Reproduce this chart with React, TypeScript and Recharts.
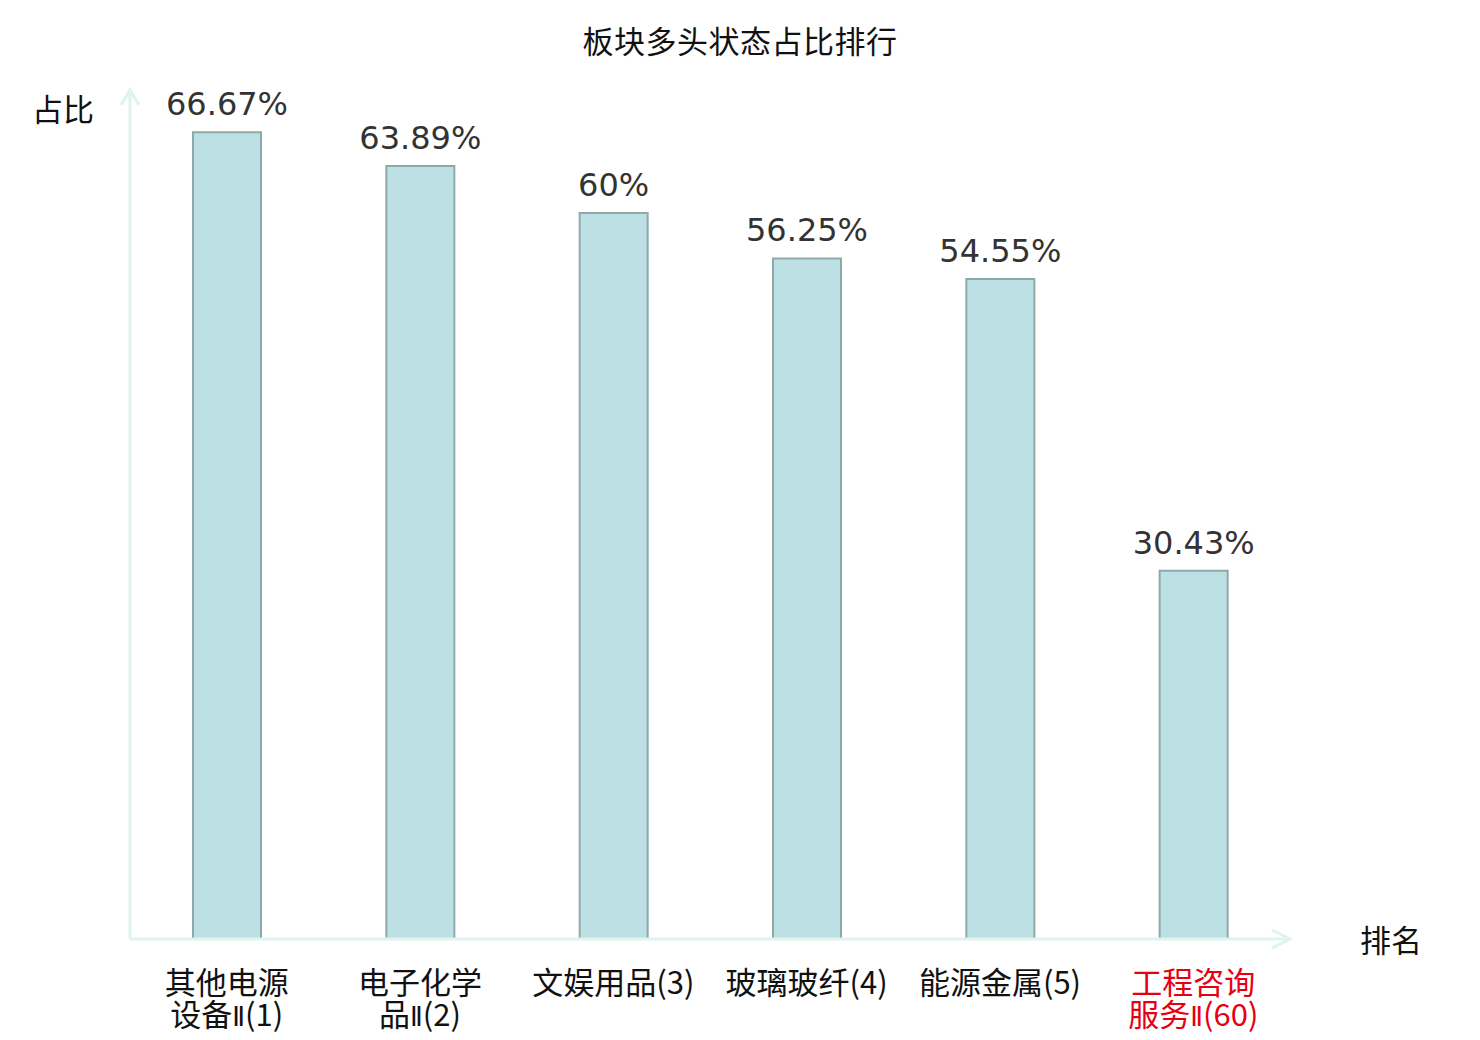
import React from 'react';
import { BarChart, Bar, XAxis, YAxis, LabelList } from 'recharts';

const sectors = ['其他电源设备Ⅱ', '电子化学品Ⅱ', '文娱用品', '玻璃玻纤', '能源金属', '工程咨询服务Ⅱ'];
const ranks = [1, 2, 3, 4, 5, 60];
const ratios = [66.67, 63.89, 60, 56.25, 54.55, 30.43];
const highlightRank = 60;

const data = sectors.map((name, i) => ({ name, rank: ranks[i], ratio: ratios[i] }));

const W = 1480;
const H = 1040;
const PLOT_LEFT = 130;
const PLOT_RIGHT = 1290;
const PLOT_TOP = 92;
const PLOT_BOTTOM = 939;
const X_AXIS_H = 80;
const AXIS_COLOR = '#dff3ef';

const CJK = '"Noto Sans CJK SC", "DejaVu Sans", sans-serif';
const LATIN = '"DejaVu Sans", sans-serif';

// split the roman numeral off so it can use a narrower glyph
const renderLine = (line: string) =>
  line.split(/(Ⅱ)/).filter(Boolean).map((part, i) =>
    part === 'Ⅱ' ? (
      <tspan key={i} fontFamily={LATIN} fontSize={26}>
        {part}
      </tspan>
    ) : (
      <tspan key={i}>{part}</tspan>
    )
  );

const SectorTick = (props: any) => {
  const { x, y, index } = props;
  const d = data[index];
  const red = d.rank === highlightRank;
  const tail = `(${d.rank})`;
  const lines = d.name.length > 4 ? [d.name.slice(0, 4), d.name.slice(4) + tail] : [d.name + tail];
  return (
    <g>
      {lines.map((l, i) => (
        <text
          key={i}
          x={x}
          y={y + 55 + i * 32}
          textAnchor="middle"
          fontSize={31}
          fontFamily={CJK}
          fill={red ? '#e60012' : '#111'}
        >
          {renderLine(l)}
        </text>
      ))}
    </g>
  );
};

const ValueLabel = (props: any) => {
  const { x, y, width, value } = props;
  return (
    <text x={x + width / 2} y={y - 17} textAnchor="middle" fontSize={32} fontFamily={LATIN} fill="#333">
      {`${value}%`}
    </text>
  );
};

export default function App() {
  return (
    <div style={{ position: 'absolute', left: 0, top: 0, width: W, height: H, background: '#fff' }}>
      <BarChart
        width={W}
        height={H}
        data={data}
        margin={{ top: PLOT_TOP, right: W - PLOT_RIGHT, bottom: H - PLOT_BOTTOM - X_AXIS_H, left: PLOT_LEFT }}
      >
        <XAxis
          dataKey="name"
          height={X_AXIS_H}
          interval={0}
          tickLine={false}
          tickSize={0}
          tickMargin={0}
          axisLine={{ stroke: AXIS_COLOR, strokeWidth: 3 }}
          tick={<SectorTick />}
        />
        <YAxis hide domain={[0, 70]} />
        <Bar dataKey="ratio" barSize={68} fill="#bce0e3" stroke="#8fa9aa" strokeWidth={2} isAnimationActive={false}>
          <LabelList dataKey="ratio" content={<ValueLabel />} />
        </Bar>
      </BarChart>
      <svg width={W} height={H} style={{ position: 'absolute', left: 0, top: 0, pointerEvents: 'none' }}>
        <line x1={PLOT_LEFT} y1={PLOT_BOTTOM} x2={PLOT_LEFT} y2={PLOT_TOP - 2} stroke={AXIS_COLOR} strokeWidth={3} />
        <polyline
          points={`${PLOT_LEFT - 9},${PLOT_TOP + 13} ${PLOT_LEFT},${PLOT_TOP - 2} ${PLOT_LEFT + 9},${PLOT_TOP + 13}`}
          fill="none"
          stroke={AXIS_COLOR}
          strokeWidth={3}
        />
        <polyline
          points={`${PLOT_RIGHT - 18},${PLOT_BOTTOM - 9} ${PLOT_RIGHT},${PLOT_BOTTOM} ${PLOT_RIGHT - 18},${PLOT_BOTTOM + 9}`}
          fill="none"
          stroke={AXIS_COLOR}
          strokeWidth={3}
        />
        <text x={740} y={53} textAnchor="middle" fontSize={31} letterSpacing={0.5} fontFamily={CJK} fill="#111">
          板块多头状态占比排行
        </text>
        <text x={63} y={121} textAnchor="middle" fontSize={31} fontFamily={CJK} fill="#111">
          占比
        </text>
        <text x={1391} y={952} textAnchor="middle" fontSize={31} fontFamily={CJK} fill="#111">
          排名
        </text>
      </svg>
    </div>
  );
}
